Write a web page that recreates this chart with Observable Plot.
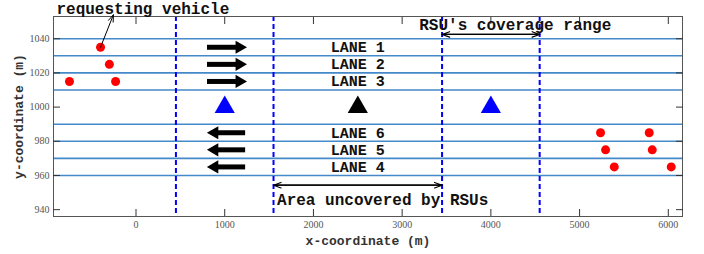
<!DOCTYPE html>
<html><head><meta charset="utf-8">
<script src="https://cdn.jsdelivr.net/npm/d3@7"></script>
<script src="https://cdn.jsdelivr.net/npm/@observablehq/plot@0.6"></script>
<style>body{margin:0;background:#fff;}</style>
</head><body><div id="chart"></div>
<script>
// ---- data ----
const xTicks = [0, 1000, 2000, 3000, 4000, 5000, 6000];
const yTicks = [940, 960, 980, 1000, 1020, 1040];
const laneLineY = [1040, 1030, 1020, 1010, 990, 980, 970, 960];
const coverageX = [450, 1550, 3450, 4550];
const rsuX = [1000, 2500, 4000];
const rsuY = [1000, 1000, 1000];
const rsuColor = ["#0000ff", "#000000", "#0000ff"];
const vehicleX = [-400, -300, -750, -230, 5236, 5785, 5293, 5819, 5391, 6033];
const vehicleY = [1035, 1025, 1015, 1015, 985, 985, 975, 975, 965, 965];
const laneNames = ["LANE 1", "LANE 2", "LANE 3", "LANE 6", "LANE 5", "LANE 4"];
const laneTextX = [2500, 2500, 2500, 2500, 2500, 2500];
const laneTextY = [1035, 1025, 1015, 985, 975, 965];
const flowX1 = [800, 800, 800, 1230, 1230, 1230];
const flowX2 = [1250, 1250, 1250, 800, 800, 800];
const flowY = [1035, 1025, 1015, 985, 975, 965];
const noteText = ["requesting vehicle", "RSU's coverage range", "Area uncovered by RSUs"];
const noteX = [77, 4275, 1590];
const noteY = [1057.3, 1048, 946];
const noteAnchor = ["middle", "middle", "start"];
const reqArrowX = [-400, -255];
const reqArrowY = [1035, 1054];
const spanX1 = [3450, 1550];
const spanX2 = [4550, 3450];
const spanY = [1042.5, 954.3];

const idx = (n) => d3.range(n);
const mono = "Liberation Mono, Courier New, monospace";
const serif = "Liberation Serif, DejaVu Serif, serif";
const isRight = i => flowX2[i] > flowX1[i];

const chart = Plot.plot({
  width: 704,
  height: 254,
  marginLeft: 53,
  marginRight: 22,
  marginTop: 16,
  marginBottom: 38,
  x: {domain: [-930, 6160]},
  y: {domain: [936, 1053]},
  style: {fontFamily: serif, fontSize: "10px", color: "#444", background: "#fff"},
  marks: [
    Plot.ruleY(laneLineY, {stroke: "#4489c9", strokeWidth: 1.6}),
    Plot.ruleX(coverageX, {stroke: "#0000ff", strokeWidth: 2, strokeDasharray: "5,3"}),
    Plot.frame({stroke: "#555"}),
    Plot.axisX(xTicks, {anchor: "bottom", tickSize: -7, tickPadding: 11, tickFormat: d => String(d), label: null, stroke: "#333", fontFamily: serif, fontSize: 10, fill: "#555"}),
    Plot.axisX(xTicks, {anchor: "top", tickSize: -7, tickFormat: () => "", label: null, stroke: "#333"}),
    Plot.axisY(yTicks, {anchor: "left", tickSize: -7, tickPadding: 11, tickFormat: d => String(d), label: null, stroke: "#333", fontFamily: serif, fontSize: 10, fill: "#555"}),
    Plot.axisY(yTicks, {anchor: "right", tickSize: -7, tickFormat: () => "", label: null, stroke: "#333"}),
    Plot.text(["x-coordinate (m)"], {frameAnchor: "bottom", textAnchor: "middle", dy: 28, fontFamily: mono, fontWeight: "bold", fontSize: 13, fill: "#333"}),
    Plot.text(["y-coordinate (m)"], {frameAnchor: "left", textAnchor: "middle", dx: -35, rotate: -90, fontFamily: mono, fontWeight: "bold", fontSize: 13, fill: "#333"}),
    // traffic flow arrows
    Plot.arrow(idx(flowY.length), {x1: i => flowX1[i], x2: i => flowX2[i], y: i => flowY[i], headLength: 0, insetEnd: 10, stroke: "#000", strokeWidth: 5, strokeLinecap: "butt"}),
    Plot.dot(idx(flowY.length), {filter: isRight, x: i => flowX2[i], y: i => flowY[i], dx: -7.5, symbol: "triangle", r: 4.9, fill: "#000", rotate: 90}),
    Plot.dot(idx(flowY.length), {filter: i => !isRight(i), x: i => flowX2[i], y: i => flowY[i], dx: 7.5, symbol: "triangle", r: 4.9, fill: "#000", rotate: -90}),
    // RSUs
    Plot.dot(idx(rsuX.length), {x: i => rsuX[i], y: i => rsuY[i], symbol: "triangle", r: 7.5, fill: i => rsuColor[i]}),
    // vehicles
    Plot.dot(idx(vehicleX.length), {x: i => vehicleX[i], y: i => vehicleY[i], r: 4.5, fill: "#ff0000"}),
    // lane labels
    Plot.text(idx(laneNames.length), {x: i => laneTextX[i], y: i => laneTextY[i], text: i => laneNames[i], fontFamily: mono, fontWeight: "bold", fontSize: 15, fill: "#111"}),
    // annotation arrows
    Plot.arrow([0], {x1: () => reqArrowX[0], y1: () => reqArrowY[0], x2: () => reqArrowX[1], y2: () => reqArrowY[1], stroke: "#000", strokeWidth: 1, headLength: 11, headAngle: 40}),
    Plot.arrow(idx(spanY.length), {x1: i => spanX1[i], x2: i => spanX2[i], y: i => spanY[i], stroke: "#000", strokeWidth: 1.2, headLength: 10, headAngle: 40}),
    Plot.arrow(idx(spanY.length), {x1: i => spanX2[i], x2: i => spanX1[i], y: i => spanY[i], stroke: "#000", strokeWidth: 1.2, headLength: 10, headAngle: 40}),
    Plot.text(idx(noteText.length), {filter: i => noteAnchor[i] === "middle", x: i => noteX[i], y: i => noteY[i], text: i => noteText[i], textAnchor: "middle", fontFamily: mono, fontWeight: "bold", fontSize: 16, fill: "#111"}),
    Plot.text(idx(noteText.length), {filter: i => noteAnchor[i] === "start", x: i => noteX[i], y: i => noteY[i], text: i => noteText[i], textAnchor: "start", fontFamily: mono, fontWeight: "bold", fontSize: 16, fill: "#111"})
  ]
});
document.getElementById("chart").appendChild(chart);
</script>
</body></html>
